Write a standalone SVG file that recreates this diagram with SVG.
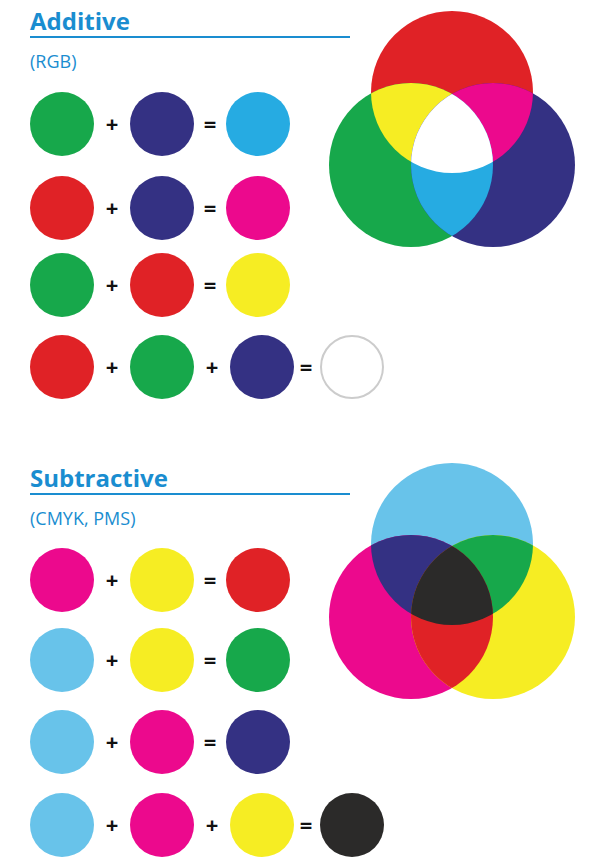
<svg xmlns="http://www.w3.org/2000/svg" width="600" height="866" viewBox="0 0 600 866">
<style>
.t{font-family:"Open Sans","Liberation Sans",sans-serif;font-weight:bold;font-size:24px;fill:#1a8dd0}
.s{font-family:"Open Sans","Liberation Sans",sans-serif;font-size:18px;fill:#1a8dd0}
.o{font-family:"Open Sans","Liberation Sans",sans-serif;font-weight:bold;font-size:22px;fill:#111;text-anchor:middle}
.R{fill:#e02226}.G{fill:#17a84b}.B{fill:#343183}.C{fill:#26abe2}.M{fill:#ec098d}.Y{fill:#f6ed23}.LC{fill:#68c3ea}.K{fill:#2b2a29}
</style>
<defs>
<clipPath id="ar"><circle cx="452" cy="92" r="81"/></clipPath>
<clipPath id="ag"><circle cx="411" cy="165" r="82"/></clipPath>
<clipPath id="sc"><circle cx="452" cy="544" r="81"/></clipPath>
<clipPath id="sm"><circle cx="411" cy="617" r="82"/></clipPath>
</defs>
<g id="additive-title">
<text class="t" x="30" y="30">Additive</text>
<line x1="30" y1="37" x2="350" y2="37" stroke="#1a8dd0" stroke-width="2"/>
<text class="s" x="30" y="68">(RGB)</text>
</g>
<g id="additive-venn">
<circle class="R" cx="452" cy="92" r="81"/>
<circle class="G" cx="411" cy="165" r="82"/>
<circle class="B" cx="493" cy="165" r="82"/>
<circle class="Y" cx="411" cy="165" r="82" clip-path="url(#ar)"/>
<circle class="M" cx="493" cy="165" r="82" clip-path="url(#ar)"/>
<circle class="C" cx="493" cy="165" r="82" clip-path="url(#ag)"/>
<g clip-path="url(#ar)"><circle fill="#fff" cx="493" cy="165" r="82" clip-path="url(#ag)"/></g>
</g>
<g id="additive-rows">
<circle class="G" cx="62" cy="124" r="32"/><text class="o" x="112" y="132">+</text><circle class="B" cx="162" cy="124" r="32"/><text class="o" x="210" y="132">=</text><circle class="C" cx="258" cy="124" r="32"/>
<circle class="R" cx="62" cy="208" r="32"/><text class="o" x="112" y="216">+</text><circle class="B" cx="162" cy="208" r="32"/><text class="o" x="210" y="216">=</text><circle class="M" cx="258" cy="208" r="32"/>
<circle class="G" cx="62" cy="285" r="32"/><text class="o" x="112" y="293">+</text><circle class="R" cx="162" cy="285" r="32"/><text class="o" x="210" y="293">=</text><circle class="Y" cx="258" cy="285" r="32"/>
<circle class="R" cx="62" cy="367" r="32"/><text class="o" x="112" y="375">+</text><circle class="G" cx="162" cy="367" r="32"/><text class="o" x="212" y="375">+</text><circle class="B" cx="262" cy="367" r="32"/><text class="o" x="306" y="375">=</text><circle fill="#fff" stroke="#cccccc" stroke-width="2" cx="352" cy="367" r="31"/>
</g>
<g id="subtractive-title">
<text class="t" x="30" y="487">Subtractive</text>
<line x1="30" y1="494" x2="350" y2="494" stroke="#1a8dd0" stroke-width="2"/>
<text class="s" x="30" y="525">(CMYK, PMS)</text>
</g>
<g id="subtractive-venn">
<circle class="LC" cx="452" cy="544" r="81"/>
<circle class="M" cx="411" cy="617" r="82"/>
<circle class="Y" cx="493" cy="617" r="82"/>
<circle class="B" cx="411" cy="617" r="82" clip-path="url(#sc)"/>
<circle class="G" cx="493" cy="617" r="82" clip-path="url(#sc)"/>
<circle class="R" cx="493" cy="617" r="82" clip-path="url(#sm)"/>
<g clip-path="url(#sc)"><circle class="K" cx="493" cy="617" r="82" clip-path="url(#sm)"/></g>
</g>
<g id="subtractive-rows">
<circle class="M" cx="62" cy="580" r="32"/><text class="o" x="112" y="588">+</text><circle class="Y" cx="162" cy="580" r="32"/><text class="o" x="210" y="588">=</text><circle class="R" cx="258" cy="580" r="32"/>
<circle class="LC" cx="62" cy="660" r="32"/><text class="o" x="112" y="668">+</text><circle class="Y" cx="162" cy="660" r="32"/><text class="o" x="210" y="668">=</text><circle class="G" cx="258" cy="660" r="32"/>
<circle class="LC" cx="62" cy="742" r="32"/><text class="o" x="112" y="750">+</text><circle class="M" cx="162" cy="742" r="32"/><text class="o" x="210" y="750">=</text><circle class="B" cx="258" cy="742" r="32"/>
<circle class="LC" cx="62" cy="825" r="32"/><text class="o" x="112" y="833">+</text><circle class="M" cx="162" cy="825" r="32"/><text class="o" x="212" y="833">+</text><circle class="Y" cx="262" cy="825" r="32"/><text class="o" x="306" y="833">=</text><circle class="K" cx="352" cy="825" r="32"/>
</g>
</svg>
